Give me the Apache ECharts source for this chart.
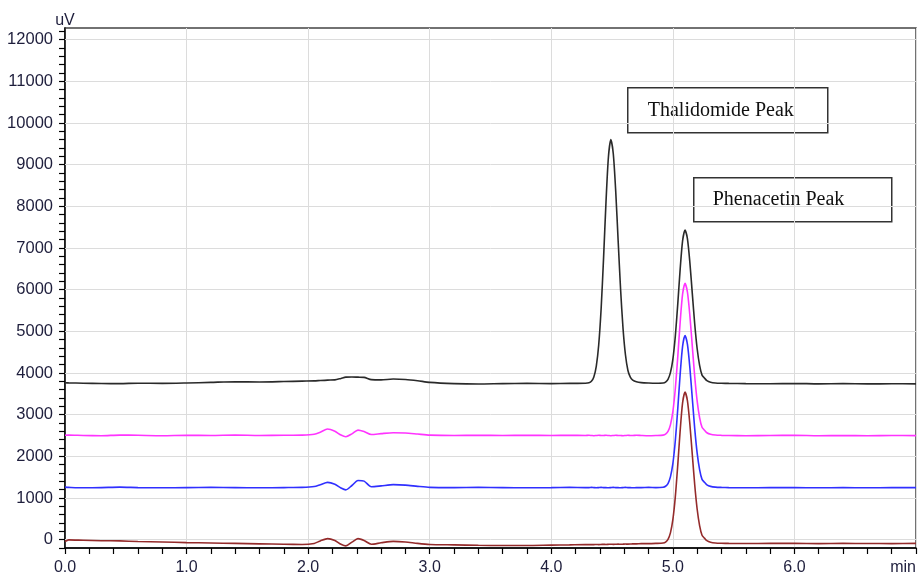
<!DOCTYPE html>
<html>
<head>
<meta charset="utf-8">
<script src="https://cdn.jsdelivr.net/npm/echarts@6/dist/echarts.min.js"></script>
<style>
html,body{margin:0;padding:0;background:#fff;}
#chart{width:919px;height:577px;}
</style>
</head>
<body>
<div id="chart"></div>
<script>
// Retention time (min)
const times = [
  0.00, 0.03, 0.15, 0.30, 0.45, 0.60, 0.80, 1.00, 1.20, 1.40, 1.60, 1.80, 1.95, 2.05, 2.10, 2.16, 2.22, 2.27, 2.31, 2.36, 2.41, 2.46, 2.52, 2.60, 2.70, 2.80, 2.90, 3.00, 3.20, 3.40, 3.60, 3.80, 4.00, 4.15, 4.28,
  4.31, 4.33, 4.35, 4.37, 4.39, 4.41, 4.43, 4.45, 4.47, 4.49, 4.51, 4.53, 4.55, 4.57, 4.59, 4.61, 4.63, 4.65, 4.67, 4.70, 4.74, 4.80, 4.86,
  4.92, 4.94, 4.96, 4.98, 5.00, 5.02, 5.04, 5.06, 5.08, 5.10, 5.12, 5.14, 5.16, 5.18, 5.20, 5.22, 5.24, 5.26, 5.28, 5.31, 5.35, 5.40, 5.46,
  5.60, 5.80, 6.00, 6.20, 6.40, 6.60, 6.80, 7.00
];
// Signal (uV) per trace
const traceBlack = [
  3765, 3762, 3755, 3748, 3745, 3755, 3750, 3760, 3775, 3790, 3785, 3795, 3805, 3810, 3820, 3830, 3835, 3870, 3900, 3905, 3900, 3895, 3840, 3835, 3855, 3845, 3815, 3775, 3745, 3735, 3745, 3750, 3745, 3750, 3755,
  3765, 3801, 3906, 4158, 4671, 5541, 6757, 8101, 9183, 9600, 9261, 8361, 7176, 6010, 5074, 4438, 4067, 3900, 3830, 3790, 3770, 3760, 3755,
  3759, 3782, 3848, 4008, 4328, 4876, 5642, 6488, 7169, 7430, 7217, 6650, 5906, 5170, 4582, 4184, 3949, 3879, 3816, 3779, 3761, 3754, 3750,
  3745, 3742, 3748, 3740, 3745, 3738, 3742, 3740
];
const traceMagenta = [
  2505, 2510, 2500, 2495, 2510, 2505, 2495, 2505, 2500, 2510, 2500, 2505, 2510, 2530, 2580, 2655, 2600, 2510, 2470, 2540, 2630, 2595, 2525, 2545, 2565, 2560, 2535, 2510, 2500, 2505, 2500, 2505, 2500, 2505, 2500,
  2505, 2500, 2495, 2500, 2505, 2500, 2500, 2505, 2500, 2495, 2500, 2505, 2500, 2500, 2495, 2500, 2505, 2500, 2500, 2505, 2500, 2495, 2500,
  2509, 2532, 2597, 2756, 3073, 3617, 4376, 5216, 5891, 6150, 5938, 5376, 4639, 3909, 3325, 2931, 2697, 2628, 2566, 2529, 2511, 2504, 2500,
  2495, 2500, 2505, 2495, 2500, 2495, 2500, 2498
];
const traceBlue = [
  1260, 1255, 1245, 1250, 1260, 1250, 1245, 1250, 1255, 1250, 1245, 1250, 1255, 1275, 1320, 1375, 1330, 1240, 1195, 1300, 1420, 1405, 1270, 1290, 1320, 1310, 1280, 1255, 1250, 1255, 1250, 1245, 1250, 1255, 1250,
  1250, 1255, 1250, 1245, 1250, 1255, 1250, 1250, 1245, 1250, 1255, 1250, 1250, 1245, 1250, 1255, 1250, 1250, 1245, 1250, 1250, 1255, 1250,
  1259, 1282, 1347, 1506, 1823, 2367, 3126, 3966, 4641, 4900, 4688, 4126, 3389, 2659, 2075, 1681, 1447, 1378, 1316, 1279, 1261, 1254, 1250,
  1245, 1250, 1248, 1245, 1250, 1245, 1250, 1248
];
const traceRed = [
  -45, -5, -15, -25, -30, -45, -55, -70, -80, -90, -100, -110, -115, -90, -30, 25, -20, -110, -150, -60, 25, -20, -110, -75, -40, -55, -90, -115, -125, -135, -140, -140, -130, -125, -120,
  -120, -118, -120, -115, -118, -115, -112, -115, -112, -110, -112, -110, -108, -110, -108, -105, -108, -105, -100, -100, -95, -95, -90,
  -81, -58, 7, 164, 480, 1021, 1776, 2611, 3282, 3540, 3330, 2770, 2037, 1311, 730, 338, 106, 37, -25, -61, -79, -86, -90,
  -92, -90, -88, -95, -90, -92, -95, -90
];
const yGridValues = [0, 1000, 2000, 3000, 4000, 5000, 6000, 7000, 8000, 9000, 10000, 11000, 12000];
const peakLabels = ['Thalidomide Peak', 'Phenacetin Peak'];

const pair = vals => times.map((t, i) => [t, vals[i]]);
const labelColor = '#1e1e3c';
const font = '"Liberation Sans", Arial, sans-serif';

function trace(vals, color) {
  return {
    type: 'line', data: pair(vals), showSymbol: false, symbol: 'none',
    smooth: 0.25, z: 3, silent: true,
    lineStyle: { color: color, width: 1.6 }
  };
}

const chart = echarts.init(document.getElementById('chart'), null, { renderer: 'canvas' });
chart.setOption({
  animation: false,
  backgroundColor: '#fff',
  grid: { left: 65, right: 1, top: 28, bottom: 29, show: true, borderColor: '#444', borderWidth: 1.5, backgroundColor: 'transparent' },
  xAxis: {
    type: 'value', min: 0, max: 7, interval: 1,
    axisLine: { show: true, onZero: false, lineStyle: { color: '#000', width: 1.5 } },
    axisTick: { show: true, length: 6, lineStyle: { color: '#000', width: 1.2 } },
    minorTick: { show: true, splitNumber: 5, length: 6, lineStyle: { color: '#000', width: 1.2 } },
    splitLine: { show: true, lineStyle: { color: '#dcdcdc', width: 1 } },
    axisLabel: {
      color: labelColor, fontFamily: font, fontSize: 16, margin: 12,
      alignMaxLabel: 'right',
      formatter: v => (v === 7 ? 'min' : v.toFixed(1))
    }
  },
  yAxis: {
    type: 'value', min: -200, max: 12280, interval: 200,
    name: 'uV', nameLocation: 'end', nameGap: -1,
    nameTextStyle: { color: labelColor, fontFamily: font, fontSize: 16, align: 'center' },
    axisLine: { show: true, onZero: false, lineStyle: { color: '#000', width: 1.5 } },
    axisTick: { show: true, length: 6, lineStyle: { color: '#000', width: 1.2 } },
    splitLine: { show: false },
    axisLabel: {
      color: labelColor, fontFamily: font, fontSize: 16.5, margin: 12,
      showMaxLabel: false,
      formatter: v => (v % 1000 === 0 && v >= 0 ? String(v) : '')
    }
  },
  series: [
    {
      type: 'line', data: [], silent: true, z: 1,
      markLine: {
        silent: true, symbol: 'none', z: 1, animation: false,
        label: { show: false },
        lineStyle: { color: '#dcdcdc', width: 1, type: 'solid' },
        data: yGridValues.map(v => ({ yAxis: v }))
      }
    },
    trace(traceRed, '#942b2b'),
    trace(traceBlue, '#3030ff'),
    trace(traceMagenta, '#ff33ff'),
    trace(traceBlack, '#2a2a2a')
  ],
  graphic: [
    {
      type: 'group', left: 627, top: 87, z: 100,
      children: [
        { type: 'rect', shape: { x: 0, y: 0, width: 200, height: 45 }, style: { fill: '#fff', stroke: '#333', lineWidth: 1.5 } },
        { type: 'text', x: 20, y: 23, style: { text: peakLabels[0], font: '20px "Liberation Serif", "Times New Roman", serif', fill: '#111', verticalAlign: 'middle' } }
      ]
    },
    {
      type: 'group', left: 693, top: 177, z: 100,
      children: [
        { type: 'rect', shape: { x: 0, y: 0, width: 198, height: 44 }, style: { fill: '#fff', stroke: '#333', lineWidth: 1.5 } },
        { type: 'text', x: 19, y: 22, style: { text: peakLabels[1], font: '20px "Liberation Serif", "Times New Roman", serif', fill: '#111', verticalAlign: 'middle' } }
      ]
    }
  ]
});
</script>
</body>
</html>
